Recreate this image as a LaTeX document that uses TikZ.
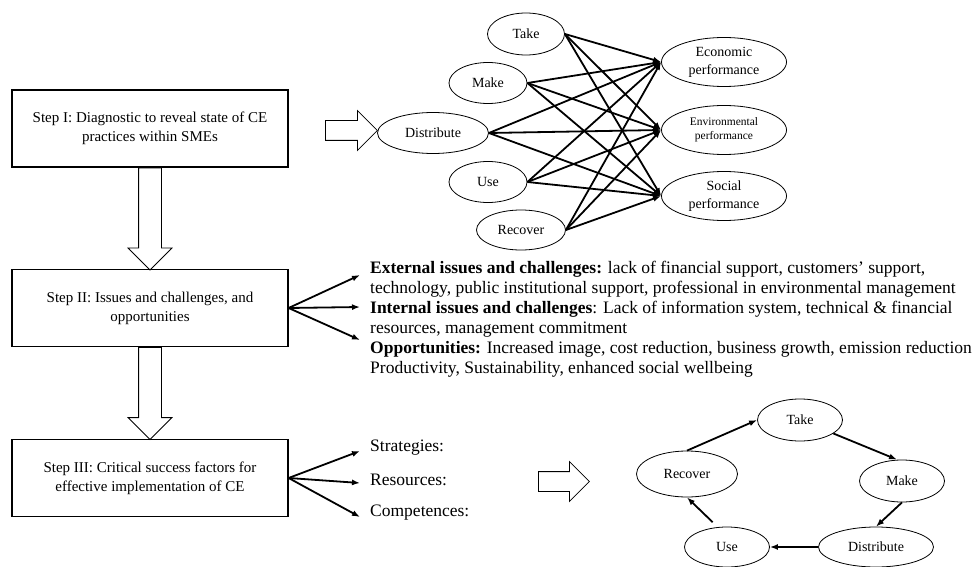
\documentclass[tikz,border=0pt]{standalone}
\usepackage{fontspec}
\setmainfont{Liberation Serif}
\usepackage{tikz}
\usetikzlibrary{positioning, arrows.meta, shapes.geometric, shapes.arrows, calc}

\begin{document}
\begin{tikzpicture}[x=1pt, y=-1pt,
  stepbox/.style={draw, line width=1.2pt, minimum width=276pt, minimum height=77pt, align=center, font=\fontsize{15}{19}\selectfont},
  oval/.style={draw, ellipse, line width=0.8pt, inner sep=0pt, align=center, font=\fontsize{14}{18}\selectfont},
  bigarrow/.style={draw, single arrow, line width=0.8pt, inner xsep=0pt, anchor=tail},
  link/.style={-{Latex[length=8pt,width=6pt]}, line width=1.8pt},
  note/.style={anchor=west, inner sep=0pt, align=left, font=\fontsize{17.5}{20}\selectfont}]
\useasboundingbox (0,0) rectangle (972,567);

% Steps
\node[stepbox] (step1) at (150,128.5) {Step I: Diagnostic to reveal state of CE\\ practices within SMEs};
\node[stepbox] (step2) at (150,308) {Step II: Issues and challenges, and\\ opportunities};
\node[stepbox] (step3) at (150,478) {Step III: Critical success factors for\\ effective implementation of CE};

% Block arrows
\node[bigarrow, rotate=-90, inner ysep=11pt, minimum height=102pt, single arrow head extend=10.5pt] (down1) at (step1.south) {};
\node[bigarrow, rotate=-90, inner ysep=11pt, minimum height=92pt, single arrow head extend=10.5pt] (down2) at (step2.south) {};
\node[bigarrow, inner ysep=9.5pt, minimum height=52pt, single arrow head extend=10pt] (right1) at (325,130.5) {};
\node[bigarrow, inner ysep=9.5pt, minimum height=51pt, single arrow head extend=10pt] (right2) at (538,481.5) {};

% CE practices vs performance
\node[oval, minimum width=77pt, minimum height=42pt] (take) at (526,34) {Take};
\node[oval, minimum width=78pt, minimum height=41pt] (make) at (488,83) {Make};
\node[oval, minimum width=111pt, minimum height=41pt] (dist) at (433,133) {Distribute};
\node[oval, minimum width=78pt, minimum height=41pt] (use) at (488,182) {Use};
\node[oval, minimum width=89pt, minimum height=40pt] (rec) at (521,230) {Recover};
\node[oval, minimum width=125pt, minimum height=49pt] (eco) at (724,62) {Economic\\ performance};
\node[oval, minimum width=125pt, minimum height=49pt, font=\fontsize{11.5}{14}\selectfont] (env) at (724,130) {Environmental\\ performance};
\node[oval, minimum width=125pt, minimum height=49pt] (soc) at (724,196) {Social\\ performance};
\foreach \a in {take,make,dist,use,rec}
  \foreach \b in {eco,env,soc}
    \draw[link] (\a.east) -- (\b.west);

% Issues and challenges
\node[note] (ext) at (370,279) {\textbf{External issues and challenges:} lack of financial support, customers’ support,\\ technology, public institutional support, professional in environmental management};
\node[note] (int) at (370,319) {\textbf{Internal issues and challenges}: Lack of information system, technical \& financial\\ resources, management commitment};
\node[note] (opp) at (370,359) {\textbf{Opportunities:} Increased image, cost reduction, business growth, emission reduction\\ Productivity, Sustainability, enhanced social wellbeing};
\coordinate (e1) at (360,275);
\coordinate (e2) at (360,307);
\coordinate (e3) at (360,340);
\foreach \c in {e1,e2,e3}
  \draw[link] (step2.east) -- (\c);

% Success factors
\node[note] (strat) at (370,448) {Strategies:};
\node[note] (res) at (370,480) {Resources:};
\node[note] (comp) at (370,513) {Competences:};
\draw[link] (step3.east) -- ([xshift=-10pt, yshift=-3pt]strat.west);
\draw[link] (step3.east) -- ([xshift=-10pt, yshift=-3pt]res.west);
\draw[link] (step3.east) -- ([xshift=-10pt, yshift=-4pt]comp.west);

% Circular loop
\begin{scope}[every node/.append style={font=\fontsize{15}{18}\selectfont}]
\node[oval, minimum width=85pt, minimum height=42pt] (take2) at (800,420) {Take};
\node[oval, minimum width=85pt, minimum height=42pt] (make2) at (902,481) {Make};
\node[oval, minimum width=115pt, minimum height=40pt] (dist2) at (876,547) {Distribute};
\node[oval, minimum width=85pt, minimum height=40pt] (use2) at (727,547) {Use};
\node[oval, minimum width=101pt, minimum height=46pt] (rec2) at (687,474) {Recover};
\end{scope}
\draw[link] (rec2.north) -- (take2.west);
\draw[link] (take2.-22) -- ([xshift=-5pt]make2.north);
\draw[link] (make2.south) -- (dist2.north);
\draw[link] (dist2.west) -- (use2.east);
\draw[link, shorten <=7pt] (use2.115) -- (rec2.south);
\end{tikzpicture}
\end{document}
